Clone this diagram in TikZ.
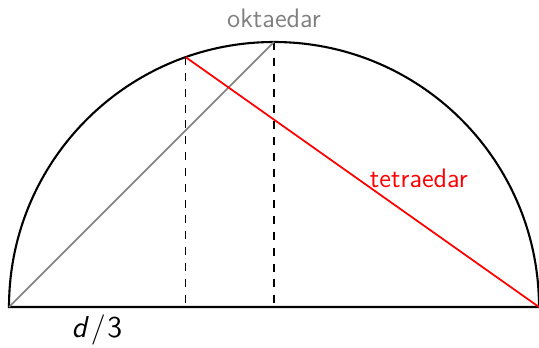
\documentclass[tikz,border=0pt]{standalone}
\usetikzlibrary{positioning}
\renewcommand{\familydefault}{\sfdefault}
\tikzset{
  rim/.style={draw=black,line width=.9pt},
  chord/.style={line width=.75pt},
  drop/.style={draw=black,dash pattern=on 3.4pt off 3.4pt,line width=.45pt},
  tag/.style={font=\fontsize{11.5}{14}\selectfont\sffamily,inner sep=1pt},
}
\begin{document}
\begin{tikzpicture}[x=4cm,y=4cm]
\useasboundingbox (-1.034,-0.151) rectangle (1,1.1585);

% tocke na kruznici
\coordinate (left) at (-1,0);
\coordinate (right) at (1,0);
\coordinate (centre) at (0,0);
\coordinate (top) at (0,1);
\coordinate (third) at ({-1/3},{sqrt(8)/3});
\coordinate (thirdfoot) at ({-1/3},0);

\draw[rim] (right) arc[start angle=0,end angle=180,radius=1] -- cycle;
\draw[drop] (third) -- (thirdfoot);
\draw[drop] (top) -- (centre);
\draw[chord,draw=gray] (left) -- (top);
\draw[chord,draw=red] (third) -- (right);

\node[tag,text=gray] (okt) at (0,1.0906) {oktaedar};
\node[tag,text=red] (tet) at (0.547,0.487) {tetraedar};
\node[tag,font=\fontsize{13}{15}\selectfont\sffamily] (dlabel) at (-0.668,-0.087) {\textit{d}\kern.8pt/\kern.8pt3};
\end{tikzpicture}
\end{document}
